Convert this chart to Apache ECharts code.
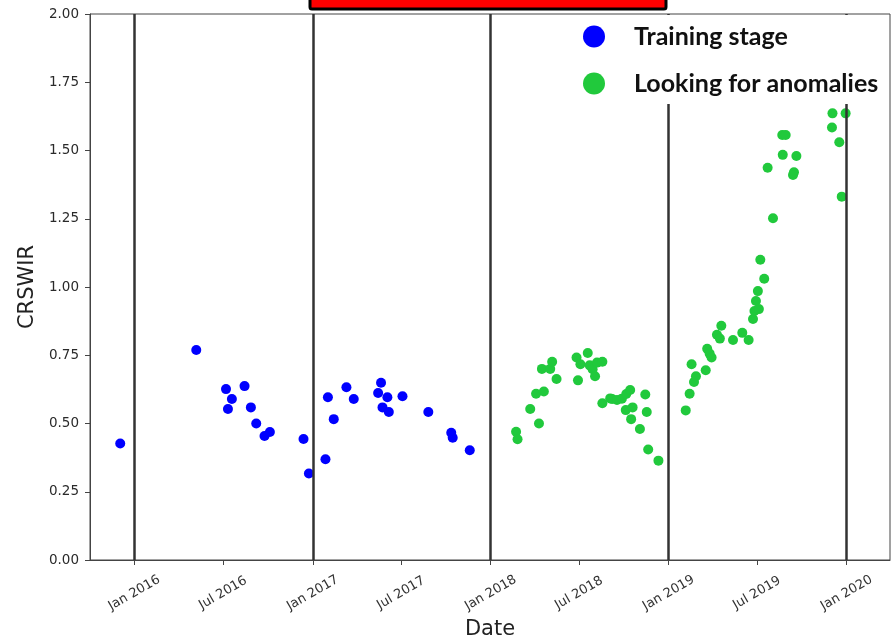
<!DOCTYPE html>
<html>
<head>
<meta charset="utf-8">
<script src="https://cdn.jsdelivr.net/npm/echarts@6/dist/echarts.min.js"></script>
<style>
  html, body { margin: 0; padding: 0; background: #fff; }
  #main { width: 892px; height: 639px; }
</style>
</head>
<body>
<div id="main"></div>
<script>
// training stage points
const blueDates = [
  '2015-12-03', '2016-05-07', '2016-07-07', '2016-07-19', '2016-07-11', '2016-08-14',
  '2016-08-27', '2016-09-07', '2016-09-24', '2016-10-05', '2016-12-13', '2016-12-24',
  '2017-01-27', '2017-02-01', '2017-02-13', '2017-03-11', '2017-03-26', '2017-05-21',
  '2017-05-15', '2017-06-03', '2017-05-24', '2017-06-06', '2017-07-04', '2017-08-26',
  '2017-10-12', '2017-10-15', '2017-11-19'
];
const blueValues = [
  0.427, 0.769, 0.626, 0.590, 0.553, 0.637,
  0.559, 0.500, 0.454, 0.469, 0.443, 0.317,
  0.369, 0.596, 0.516, 0.633, 0.590, 0.649,
  0.612, 0.596, 0.559, 0.542, 0.600, 0.542,
  0.466, 0.448, 0.402
];
// looking for anomalies points
const greenDates = [
  '2018-02-22', '2018-02-25', '2018-03-23', '2018-04-04', '2018-04-10', '2018-04-20',
  '2018-04-16', '2018-05-03', '2018-05-07', '2018-05-16', '2018-06-26', '2018-06-29',
  '2018-07-04', '2018-07-19', '2018-07-23', '2018-07-29', '2018-08-03', '2018-08-07',
  '2018-08-18', '2018-08-18', '2018-09-03', '2018-09-07', '2018-09-17', '2018-09-27',
  '2018-10-06', '2018-10-14', '2018-10-05', '2018-10-19', '2018-10-16', '2018-11-03',
  '2018-11-14', '2018-11-17', '2018-11-20', '2018-12-11',
  '2019-02-05', '2019-02-13', '2019-02-17', '2019-02-22', '2019-02-26', '2019-03-18',
  '2019-03-21', '2019-03-26', '2019-03-30', '2019-04-10', '2019-04-16', '2019-04-19',
  '2019-05-13', '2019-06-01', '2019-06-14', '2019-06-23', '2019-06-26', '2019-07-05',
  '2019-06-29', '2019-07-03', '2019-07-08', '2019-07-16', '2019-07-23', '2019-08-03',
  '2019-08-22', '2019-08-29', '2019-08-23', '2019-09-20', '2019-09-15', '2019-09-13',
  '2019-12-02', '2019-12-03', '2019-12-30', '2019-12-17', '2019-12-22'
];
const greenValues = [
  0.470, 0.442, 0.553, 0.609, 0.500, 0.617,
  0.700, 0.700, 0.726, 0.663, 0.742, 0.658,
  0.717, 0.758, 0.713, 0.699, 0.673, 0.723,
  0.726, 0.574, 0.592, 0.590, 0.586, 0.591,
  0.608, 0.623, 0.549, 0.559, 0.516, 0.480,
  0.606, 0.542, 0.405, 0.364,
  0.548, 0.609, 0.717, 0.652, 0.673, 0.695,
  0.774, 0.756, 0.742, 0.825, 0.811, 0.858,
  0.806, 0.832, 0.806, 0.883, 0.912, 0.919,
  0.949, 0.985, 1.100, 1.030, 1.437, 1.252,
  1.557, 1.557, 1.484, 1.480, 1.420, 1.410,
  1.584, 1.636, 1.636, 1.530, 1.331
];
// yearly boundaries drawn as vertical lines
const boundaryDates = ['2016-01-01', '2017-01-01', '2018-01-01', '2019-01-01', '2020-01-01'];
// x tick labels
const tickDates = [
  '2016-01-01', '2016-07-01', '2017-01-01', '2017-07-01', '2018-01-01',
  '2018-07-01', '2019-01-01', '2019-07-01', '2020-01-01'
];
const monthNames = ['Jan', 'Feb', 'Mar', 'Apr', 'May', 'Jun', 'Jul', 'Aug', 'Sep', 'Oct', 'Nov', 'Dec'];

const toTime = s => echarts.number.parseDate(s).getTime();
const tickValues = tickDates.map(toTime);

const chart = echarts.init(document.getElementById('main'), null, { renderer: 'canvas' });
chart.setOption({
  animation: false,
  backgroundColor: '#fff',
  grid: {
    left: 90, right: 2, top: 14, bottom: 79,
    outerBoundsMode: 'none',
    show: true, borderColor: '#444', borderWidth: 1
  },
  legend: {
    orient: 'vertical',
    left: 577, top: 15,
    z: 10,
    backgroundColor: '#fff',
    padding: [9, 8, 8, 6],
    itemWidth: 22, itemHeight: 22, itemGap: 22,
    icon: 'circle',
    textStyle: {
      fontFamily: 'Lato', fontWeight: 'bold', fontSize: 25, color: '#111',
      lineHeight: 22, padding: [0, 0, 0, 24]
    },
    data: ['Training stage', 'Looking for anomalies']
  },
  xAxis: {
    type: 'value',
    min: toTime('2015-10-02'), max: toTime('2020-03-30'),
    name: 'Date', nameLocation: 'middle', nameGap: 57,
    nameTextStyle: { fontFamily: 'DejaVu Sans', fontSize: 21, color: '#222' },
    axisLine: { lineStyle: { color: '#444', width: 1 } },
    axisTick: { show: true, length: 5, customValues: tickValues, lineStyle: { color: '#444' } },
    axisLabel: {
      customValues: tickValues,
      rotate: 30, align: 'center', verticalAlign: 'middle', margin: 33,
      fontFamily: 'DejaVu Sans', fontSize: 13, color: '#333',
      formatter: v => { const d = new Date(v); return monthNames[d.getMonth()] + ' ' + d.getFullYear(); }
    },
    splitLine: { show: false }
  },
  yAxis: {
    type: 'value',
    min: 0, max: 2, interval: 0.25,
    name: 'CRSWIR', nameLocation: 'middle', nameGap: 50,
    nameTextStyle: { fontFamily: 'DejaVu Sans', fontSize: 21, color: '#222' },
    axisLine: { show: true, lineStyle: { color: '#444', width: 1 } },
    axisTick: { show: true, length: 5, lineStyle: { color: '#444' } },
    axisLabel: {
      margin: 11, fontFamily: 'DejaVu Sans', fontSize: 13.5, color: '#2a2a2a',
      formatter: v => v.toFixed(2)
    },
    splitLine: { show: false }
  },
  series: [
    {
      name: 'Training stage',
      type: 'scatter',
      symbolSize: 10,
      itemStyle: { color: '#0000ff', opacity: 1 },
      data: blueDates.map((d, i) => [toTime(d), blueValues[i]])
    },
    {
      name: 'Looking for anomalies',
      type: 'scatter',
      symbolSize: 10,
      itemStyle: { color: '#21c93c', opacity: 1 },
      data: greenDates.map((d, i) => [toTime(d), greenValues[i]])
    },
    {
      name: 'years',
      type: 'scatter',
      data: [],
      markLine: {
        silent: true,
        symbol: 'none',
        label: { show: false },
        lineStyle: { color: '#333', width: 2.5, type: 'solid' },
        data: boundaryDates.map(d => ({ xAxis: toTime(d) }))
      }
    }
  ],
  graphic: [
    {
      type: 'rect',
      shape: { x: 310, y: -6, width: 356, height: 15, r: 2 },
      style: { fill: '#ff0000', stroke: '#000', lineWidth: 3 }
    }
  ]
});
</script>
</body>
</html>
